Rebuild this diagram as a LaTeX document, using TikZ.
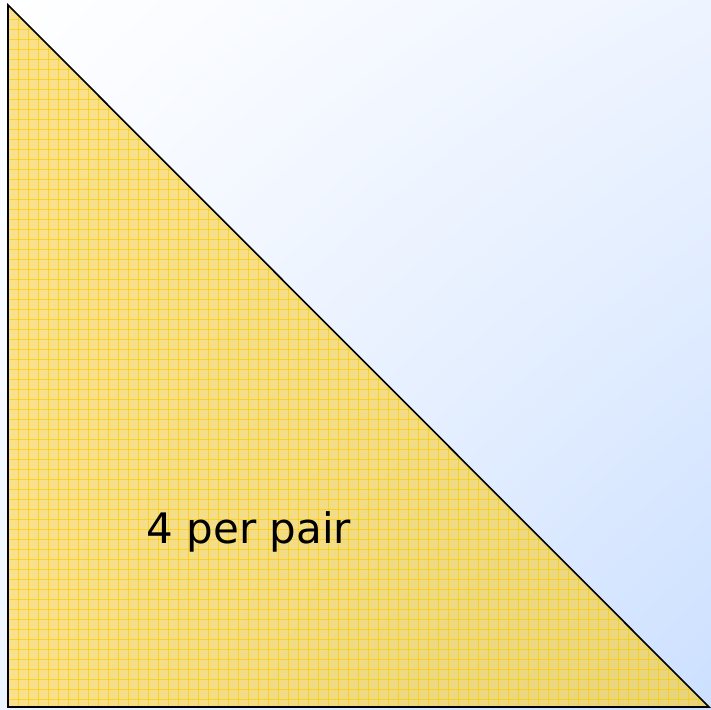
\documentclass[tikz,border=0pt]{standalone}
\usepackage{fontspec}
\setmainfont{DejaVu Sans}
\usetikzlibrary{shadings}
\definecolor{skywhite}{RGB}{255,255,255}
\definecolor{skymid}{RGB}{238,244,255}
\definecolor{skyblue}{RGB}{204,224,255}
\definecolor{sandlight}{RGB}{248,224,140}
\definecolor{sanddark}{RGB}{230,212,124}
\definecolor{gridgold}{RGB}{255,204,0}
\tikzset{
  gridline/.style={gridgold,line width=0.9pt,opacity=0.7},
  outline/.style={black,line width=1.6pt,line join=miter},
  labeltext/.style={font=\fontsize{42}{50}\selectfont}
}

\begin{document}
\begin{tikzpicture}[x=1pt,y=1pt]
  \useasboundingbox (0,0) rectangle (711,709);
  % background
  \shade[upper left=skywhite,upper right=skymid,lower left=skymid,lower right=skyblue]
    (0,0) rectangle (711,709);

  \coordinate (apex) at (8,704);
  \coordinate (foot) at (8,2);
  \coordinate (tip) at (709,2);

  % triangle fill and grid
  \shade[upper left=sandlight,upper right=sandlight,lower left=sandlight,lower right=sanddark]
    (apex) -- (foot) -- (tip) -- cycle;
  \begin{scope}
    \clip (apex) -- (foot) -- (tip) -- cycle;
    \foreach \k in {0,...,71}{
      \draw[gridline] (8+\k*10,0) -- ++(0,709);
      \draw[gridline] (0,\k*10) -- ++(711,0);
    }
  \end{scope}
  \draw[outline] (apex) -- (foot) -- (tip) -- cycle;

  \node[labeltext] (label) at (249,177) {4 per pair};
\end{tikzpicture}
\end{document}
